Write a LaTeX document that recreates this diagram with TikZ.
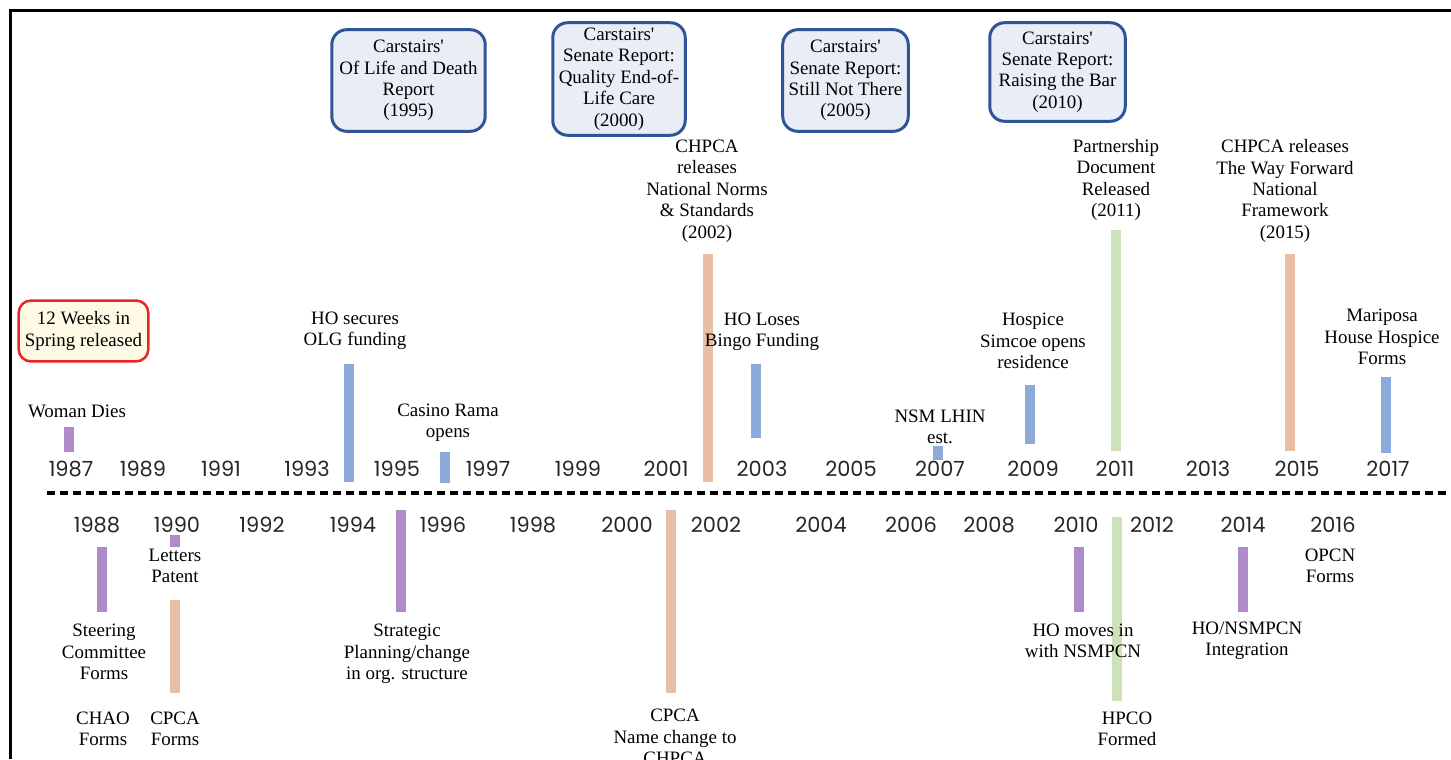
\documentclass[tikz,border=0pt]{standalone}
\usepackage{fontspec}
\setmainfont{Liberation Serif}
\newfontfamily\yearfont{Poppins}
\definecolor{purplebar}{RGB}{175,139,200}
\definecolor{bluebar}{RGB}{142,170,219}
\definecolor{salmonbar}{RGB}{232,190,165}
\definecolor{greenbar}{RGB}{204,226,184}
\definecolor{reportblue}{RGB}{47,85,151}
\definecolor{reportfill}{RGB}{233,238,246}
\definecolor{noteline}{RGB}{232,38,42}
\definecolor{notefill}{RGB}{254,250,230}

\begin{document}
\begin{tikzpicture}[x=1bp,y=-1bp]
    \tikzstyle{event}=[align=center,inner sep=0pt,font=\fontsize{19}{21.5}\selectfont]
    \tikzstyle{year}=[inner sep=0pt,text=black!85,font=\yearfont\fontsize{21}{24}\selectfont]
    \tikzstyle{report}=[event,draw=reportblue,fill=reportfill,line width=3bp,rounded corners=15bp]
    \tikzstyle{note}=[event,draw=noteline,fill=notefill,line width=2.5bp,rounded corners=12bp]
    \useasboundingbox (0,0) rectangle (1451,759);

    % frame and axis
    \draw[line width=3bp] (10.5,759) -- (10.5,10.5) -- (1451,10.5);
    \coordinate (axis-l) at (47,493);
    \coordinate (axis-r) at (1447,493);
    \draw[line width=3.5bp,dash pattern=on 8bp off 5bp] (axis-l) -- (axis-r);

    % years above and below the axis
    \foreach \yr/\x in {1987/71,1989/143,1991/221,1993/307,1995/397,1997/488,1999/578,2001/666,2003/762,2005/851,2007/940,2009/1033,2011/1115,2013/1208,2015/1297,2017/1388}
        \node[year] (Y-\yr) at (\x,469) {\yr};
    \foreach \yr/\x in {1988/97,1990/177,1992/262,1994/353,1996/443,1998/533,2000/627,2002/716,2004/821,2006/911,2008/989,2010/1076,2012/1152,2014/1243,2016/1333}
        \node[year] (Y-\yr) at (\x,525) {\yr};

    % bars above
    \fill[purplebar] (64,427) rectangle (74,452);
    \fill[bluebar] (344,364) rectangle (354,482);
    \fill[bluebar] (440,452) rectangle (450,483);
    \fill[salmonbar] (703,254) rectangle (713,482);
    \fill[bluebar] (751,364) rectangle (761,438);
    \fill[bluebar] (933,446) rectangle (943,460);
    \fill[bluebar] (1025,385) rectangle (1035,444);
    \fill[greenbar] (1111,230) rectangle (1121,451);
    \fill[salmonbar] (1285,254) rectangle (1295,451);
    \fill[bluebar] (1381,377) rectangle (1391,453);
    % bars below
    \fill[purplebar] (97,547) rectangle (107,612);
    \fill[purplebar] (170,535) rectangle (180,547);
    \fill[salmonbar] (170,600) rectangle (180,693);
    \fill[purplebar] (396,510) rectangle (406,612);
    \fill[salmonbar] (666,510) rectangle (676,693);
    \fill[purplebar] (1074,547) rectangle (1084,612);
    \fill[greenbar] (1112,517) rectangle (1122,701);
    \fill[purplebar] (1238,547) rectangle (1248,612);

    % reports
    \node[report,minimum width=154,minimum height=102] (R-1995) at (408.5,80.5) {Carstairs\textquotesingle\\Of Life and Death\\Report\\(1995)};
    \node[report,minimum width=133,minimum height=113] (R-2000) at (619,79) {Carstairs\textquotesingle\\Senate Report:\\Quality End-of-\\Life Care\\(2000)};
    \node[report,minimum width=126,minimum height=102] (R-2005) at (845.5,80.5) {Carstairs\textquotesingle\\Senate Report:\\Still Not There\\(2005)};
    \node[report,minimum width=136,minimum height=99] (R-2010) at (1057.5,72) {Carstairs\textquotesingle\\Senate Report:\\Raising the Bar\\(2010)};
    \node[note,minimum width=130,minimum height=61] (N-1987) at (83.5,331) {12 Weeks in\\Spring released};

    % events above
    \node[event] (E-1987) at (77,411) {Woman Dies};
    \node[event] (E-1994) at (355,331) {HO secures\\OLG funding};
    \node[event] (E-1996) at (448,423) {Casino Rama\\opens};
    \node[event] (E-2002) at (707,191) {CHPCA\\releases\\National Norms\\\& Standards\\(2002)};
    \node[event] (E-2003) at (762,332) {HO Loses\\Bingo Funding};
    \node[event] (E-2007) at (940,427) {NSM LHIN\\est.};
    \node[event] (E-2009) at (1033,341) {Hospice\\Simcoe opens\\residence};
    \node[event] (E-2011) at (1116,180) {Partnership\\Document\\Released\\(2011)};
    \node[event] (E-2015) at (1285,191) {CHPCA releases\\The Way Forward\\National\\Framework\\(2015)};
    \node[event] (E-2017) at (1382,337) {Mariposa\\House Hospice\\Forms};
    % events below
    \node[event] (E-1990a) at (175,566) {Letters\\Patent};
    \node[event] (E-1988) at (104,652) {Steering\\Committee\\Forms};
    \node[event] (E-1988b) at (103,729) {CHAO\\Forms};
    \node[event] (E-1990b) at (175,729) {CPCA\\Forms};
    \node[event] (E-1995) at (407,654) {Strategic\\Planning/change\\in org. structure};
    \node[event] (E-2001) at (675,737) {CPCA\\Name change to\\CHPCA};
    \node[event] (E-2010) at (1083,641) {HO moves in\\with NSMPCN};
    \node[event] (E-2011b) at (1127,729) {HPCO\\Formed};
    \node[event] (E-2014) at (1247,641) {HO/NSMPCN\\Integration};
    \node[event] (E-2016) at (1330,566) {OPCN\\Forms};
\end{tikzpicture}
\end{document}
